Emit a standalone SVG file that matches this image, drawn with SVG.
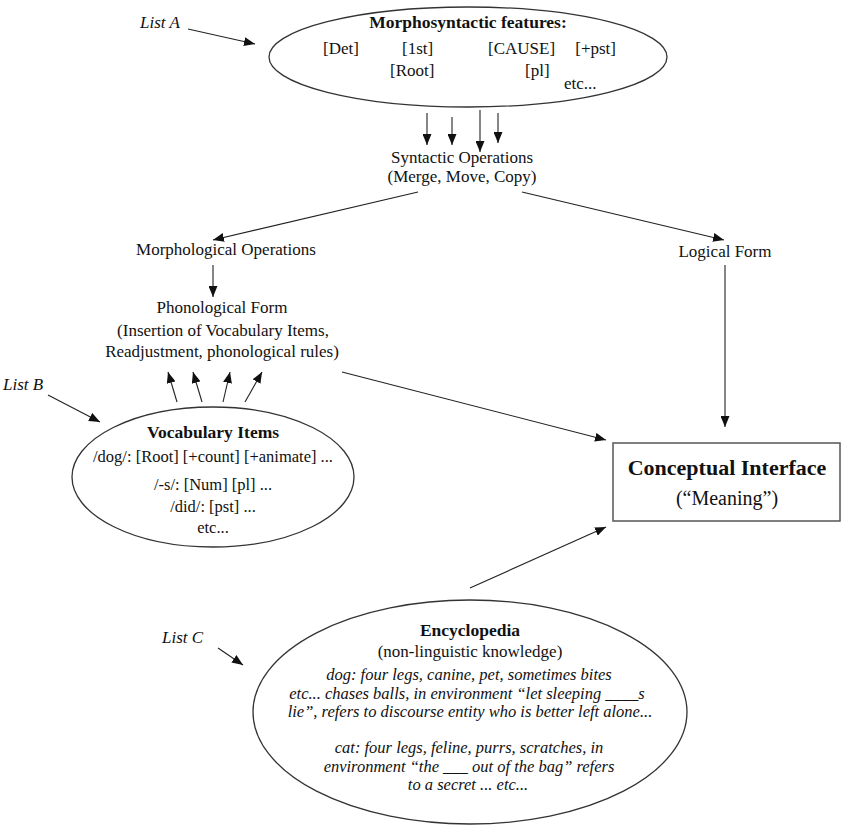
<svg xmlns="http://www.w3.org/2000/svg" width="844" height="830" viewBox="0 0 844 830">
<defs>
<marker id="ah" markerUnits="userSpaceOnUse" markerWidth="11" markerHeight="9" refX="11" refY="4.5" orient="auto">
<path d="M0,0 L11,4.5 L0,9 z" fill="#111"/>
</marker>
<style>
text{font-family:"Liberation Serif","Times New Roman",serif;fill:#111;font-size:17px}
.c{text-anchor:middle}
.b{font-weight:bold;font-size:17.5px}
.i{font-style:italic;font-size:16.5px}
.el{fill:none;stroke:#333;stroke-width:1.3}
.cn line{stroke:#222;stroke-width:1.1;marker-end:url(#ah)}
</style>
</defs>
<rect width="844" height="830" fill="#fff"/>

<g id="listA"><text class="i" x="140" y="28" style="font-size:17px">List A</text></g>
<g id="listB"><text class="i" x="3" y="390" style="font-size:17px">List B</text></g>
<g id="listC"><text class="i" x="162" y="643" style="font-size:17px">List C</text></g>

<g id="morphosyntactic">
<ellipse class="el" cx="468" cy="57" rx="199" ry="50"/>
<text class="b c" x="468" y="28">Morphosyntactic features:</text>
<text x="323" y="54">[Det]</text>
<text x="402" y="54">[1st]</text>
<text x="488" y="54">[CAUSE]</text>
<text x="616" y="54" style="text-anchor:end">[+pst]</text>
<text x="390" y="76">[Root]</text>
<text x="525" y="76">[pl]</text>
<text x="564" y="89">etc...</text>
</g>

<g id="syntactic">
<text class="c" x="462" y="163">Syntactic Operations</text>
<text class="c" x="462" y="182">(Merge, Move, Copy)</text>
</g>

<g id="morphological"><text class="c" x="226" y="255">Morphological Operations</text></g>

<g id="logical"><text class="c" x="725" y="257">Logical Form</text></g>

<g id="phonological">
<text class="c" x="222" y="313">Phonological Form</text>
<text class="c" x="223" y="336">(Insertion of Vocabulary Items,</text>
<text class="c" x="222" y="357">Readjustment, phonological rules)</text>
</g>

<g id="vocabulary">
<ellipse class="el" cx="213" cy="477" rx="141" ry="70"/>
<text class="b c" x="213" y="438">Vocabulary Items</text>
<text class="c" x="213" y="462" style="font-size:16.5px">/dog/: [Root] [+count] [+animate] ...</text>
<text class="c" x="213" y="490" style="font-size:16.5px">/-s/: [Num] [pl] ...</text>
<text class="c" x="213" y="512" style="font-size:16.5px">/did/: [pst] ...</text>
<text class="c" x="213" y="533" style="font-size:16.5px">etc...</text>
</g>

<g id="conceptual">
<rect x="613" y="443" width="227" height="78" fill="#fff" stroke="#555" stroke-width="1.5"/>
<text class="c" x="727" y="475" style="font-weight:bold;font-size:22px">Conceptual Interface</text>
<text class="c" x="727" y="505" style="font-size:20px">(“Meaning”)</text>
</g>

<g id="encyclopedia">
<ellipse class="el" cx="470" cy="712" rx="217" ry="112"/>
<text class="b c" x="470" y="636">Encyclopedia</text>
<text class="c" x="470" y="657">(non-linguistic knowledge)</text>
<text class="i c" x="469" y="680">dog: four legs, canine, pet, sometimes bites</text>
<text class="i c" x="467" y="699">etc... chases balls, in environment “let sleeping ____s</text>
<text class="i c" x="470" y="717">lie”, refers to discourse entity who is better left alone...</text>
<text class="i c" x="469" y="753">cat: four legs, feline, purrs, scratches, in</text>
<text class="i c" x="469" y="772">environment “the ___ out of the bag” refers</text>
<text class="i c" x="468" y="790">to a secret ... etc...</text>
</g>

<g id="connectors" class="cn">
<line x1="188" y1="29" x2="255" y2="44"/>
<line x1="427" y1="113" x2="427" y2="145"/>
<line x1="452" y1="117" x2="452" y2="145"/>
<line x1="480" y1="110" x2="480" y2="152"/>
<line x1="498" y1="113" x2="498" y2="143"/>
<line x1="418" y1="192" x2="213" y2="240"/>
<line x1="522" y1="192" x2="724" y2="240"/>
<line x1="213" y1="265" x2="213" y2="297"/>
<line x1="725" y1="265" x2="725" y2="427"/>
<line x1="177" y1="402" x2="168" y2="372"/>
<line x1="202" y1="402" x2="193" y2="372"/>
<line x1="223" y1="402" x2="230" y2="372"/>
<line x1="245" y1="402" x2="262" y2="372"/>
<line x1="342" y1="372" x2="606" y2="440"/>
<line x1="48" y1="395" x2="100" y2="422"/>
<line x1="470" y1="588" x2="606" y2="527"/>
<line x1="218" y1="648" x2="243" y2="665"/>
</g>
</svg>
